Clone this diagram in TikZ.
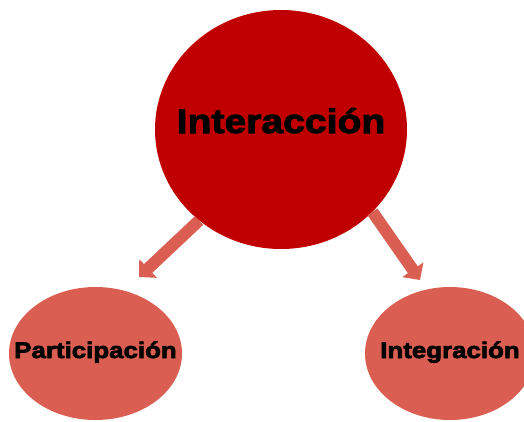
\documentclass[tikz,border=0pt]{standalone}
\usepackage{fontspec}
\usepackage{xcolor}
\usepackage{tikz}
\usetikzlibrary{shapes,arrows.meta,positioning}
\newfontfamily\diagfont[FakeStretch=1.15,FakeBold=3]{Liberation Sans}
\definecolor{deepred}{RGB}{192,0,0}
\definecolor{softred}{RGB}{218,94,81}
\tikzstyle{maincircle} = [ellipse, fill=deepred, inner sep=0pt,
    minimum width=252pt, minimum height=239pt, text height=24pt, text depth=17pt,
    font=\diagfont\bfseries\fontsize{34}{40}\selectfont]
\tikzstyle{subcircle} = [ellipse, fill=softred, inner sep=0pt,
    minimum width=173pt, minimum height=133pt, text height=16pt, text depth=7pt,
    font=\diagfont\bfseries\fontsize{22.5}{27}\selectfont]
\tikzstyle{line} = [draw=softred, line width=12pt,
    -{Triangle[width=25pt, length=12.5pt, color=softred]}]

\begin{document}
\begin{tikzpicture}[x=1pt, y=-1pt]
    % Frame
    \useasboundingbox (0,0) rectangle (524,421);
    \clip (0,0) rectangle (524,421);

    % Place nodes
    \node [maincircle] (interaccion) at (281,129.5) {\makebox[0pt]{Interacción}};
    \node [subcircle, on grid, below left=224pt and 185.5pt of interaccion] (participacion) {\makebox[0pt]{Participación}};
    \node [subcircle, on grid, minimum width=170pt, below right=224pt and 169pt of interaccion] (integracion) {\makebox[0pt]{Integración}};
    \coordinate (tip_part) at (139,277);
    \coordinate (tip_integ) at (420,280);

    \path [line] (interaccion.228) -- (tip_part);
    \path [line] (interaccion.318) -- (tip_integ);
\end{tikzpicture}
\end{document}
